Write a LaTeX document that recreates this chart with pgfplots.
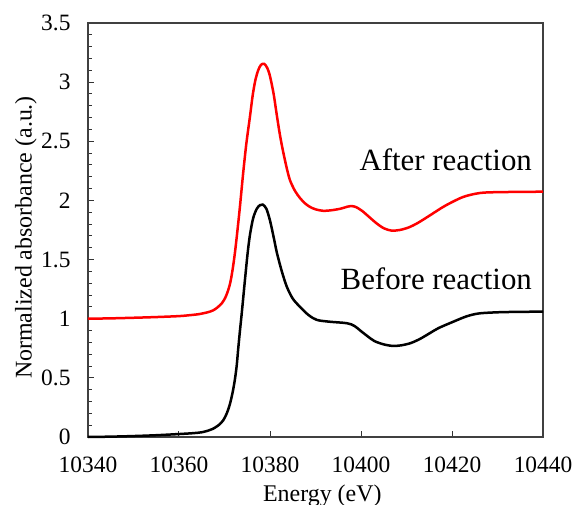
\documentclass[border=0pt]{standalone}
\usepackage{fontspec}
\setmainfont{Liberation Serif}
\usepackage{pgfplots}
\pgfplotsset{compat=1.18}
\begin{document}
\begin{tikzpicture}
\begin{axis}[
  scale only axis,
  width=455bp, height=414bp,
  at={(0,0)}, anchor=south west,
  xmin=10340, xmax=10440, ymin=0, ymax=3.5,
  xtick={10340,10360,...,10440},
  ytick={0,0.5,...,3.5},
  scaled x ticks=false, scaled y ticks=false,
  minor x tick num=4, minor y tick num=4,
  tick align=inside, tick pos=left,
  major tick length=6bp, minor tick length=4bp,
  every tick/.style={black!80, line width=1bp},
  axis line style={black!75, line width=1.3bp},
  /pgf/number format/assume math mode=true,
  /pgf/number format/.cd, set thousands separator={}, 1000 sep={},
  /pgfplots/.cd,
  ticklabel style={font=\fontsize{23.5}{27}\selectfont},
  xticklabel style={anchor=base, yshift=-35.5bp},
  yticklabel style={anchor=east, xshift=-14bp},
  xlabel={Energy (eV)},
  ylabel={Normalized absorbance (a.u.)},
  label style={font=\fontsize{24}{28}\selectfont},
  xlabel style={at={(axis description cs:0.515,-0.1546)}, anchor=base},
  ylabel style={at={(axis description cs:-0.1237,0.4819)}, anchor=base, rotate=0},
  clip=false,
]
\addplot[black, line width=2.5bp, smooth] coordinates {
(10340,0.000) (10345,0.003) (10350,0.008) (10355,0.015) (10360,0.025)
(10363,0.032) (10365,0.040) (10366.5,0.055) (10367.5,0.07) (10368.7,0.10)
(10369.7,0.14) (10370.5,0.20) (10371.2,0.28) (10371.8,0.38) (10372.3,0.49)
(10372.7,0.61) (10373.0,0.74) (10373.4,0.90) (10373.8,1.05) (10374.5,1.33)
(10375.1,1.56) (10375.6,1.71) (10376.3,1.85) (10377.1,1.93) (10377.8,1.96) (10378.4,1.965)
(10379.2,1.93) (10380,1.83) (10380.8,1.69) (10381.5,1.56) (10382.6,1.40)
(10383.7,1.27) (10385,1.17) (10386.6,1.10) (10388.5,1.03) (10390.3,0.99)
(10393,0.975) (10396.9,0.962) (10398.5,0.94) (10400,0.895) (10401.5,0.85)
(10403,0.81) (10405,0.783) (10407,0.77) (10409,0.776) (10411,0.795)
(10413,0.83) (10415,0.875) (10417,0.92) (10420,0.97) (10423.2,1.02) (10426,1.045)
(10430.5,1.055) (10435,1.058) (10440,1.06)
};
\addplot[red, line width=2.5bp, smooth] coordinates {
(10340,1.000) (10345,1.003) (10350,1.008) (10355,1.014) (10360,1.022)
(10362.4,1.03) (10364.6,1.04) (10366.8,1.06) (10368,1.082) (10369.4,1.13)
(10370.2,1.18) (10370.8,1.24) (10371.3,1.31) (10371.8,1.42) (10372.3,1.56)
(10372.8,1.73) (10373.4,1.95) (10374.1,2.23) (10374.8,2.48) (10375.6,2.71) (10376.2,2.89)
(10376.8,3.02) (10377.4,3.10) (10378,3.145) (10378.7,3.155) (10379.4,3.12)
(10380,3.05) (10380.8,2.90) (10381.5,2.72) (10382.2,2.55) (10382.9,2.41)
(10383.7,2.27) (10384.4,2.17) (10385.5,2.08) (10386.6,2.02) (10387.7,1.975)
(10388.8,1.945) (10390,1.925) (10391.7,1.912) (10393.5,1.917) (10395.5,1.93)
(10397,1.947) (10398,1.952) (10399,1.942) (10400.3,1.91) (10401.8,1.86)
(10403.3,1.81) (10405,1.765) (10406.7,1.745) (10408.5,1.75) (10410.5,1.772)
(10412.5,1.81) (10415,1.87) (10418.5,1.955) (10422.5,2.03) (10426.2,2.063)
(10430,2.07) (10435,2.072) (10440,2.074)
};
\node[anchor=base east, inner sep=0pt, font=\fontsize{31}{36}\selectfont] at (axis cs:10437.6,2.257) {After reaction};
\node[anchor=base east, inner sep=0pt, font=\fontsize{31}{36}\selectfont] at (axis cs:10437.6,1.251) {Before reaction};
\end{axis}
\pgfresetboundingbox
\path (-88bp,-68bp) rectangle (486bp,437bp);
\end{tikzpicture}
\end{document}
